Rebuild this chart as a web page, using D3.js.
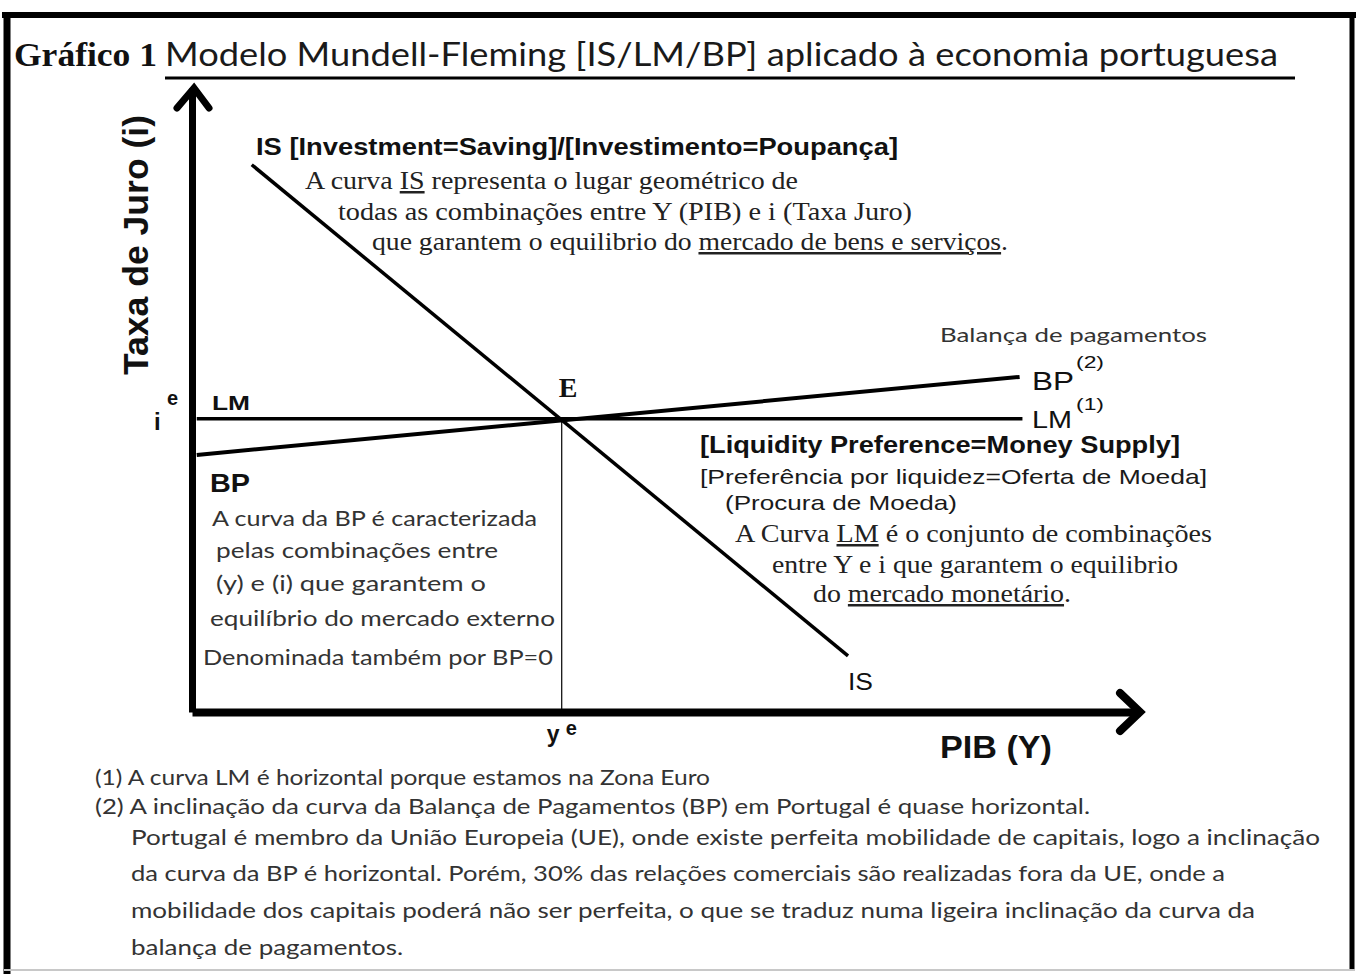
<!DOCTYPE html>
<html><head><meta charset="utf-8">
<script src="https://cdn.jsdelivr.net/npm/d3@7"></script>
<style>body{margin:0;background:#fff}svg{display:block}</style>
</head><body><svg id="c" width="1362" height="974"></svg>
<script>
// ---- data (model units) ----
const yDomain = [0, 10];        // PIB (Y)
const iDomain = [0, 10];        // Taxa de Juro (i)
const equilibrium = [3.9, 4.7]; // [Y^e, i^e]
const isCurve = [[0.63, 8.77], [6.92, 0.90]];
const lmCurve = [[0.05, 4.7], [8.76, 4.7]];
const bpCurve = [[0.05, 4.12], [8.73, 5.37]];
const titlePrefix = "Gráfico 1";
const titleMain = "Modelo Mundell-Fleming [IS/LM/BP] aplicado à economia portuguesa";
const yAxisLabel = "Taxa de Juro (i)";
const xAxisLabel = "PIB (Y)";
const isText = [
  [["IS [Investment=Saving]/[Investimento=Poupança]"]],
  [["A curva "], ["IS", 1], [" representa o lugar geométrico de"]],
  [["todas as combinações entre Y (PIB) e i (Taxa Juro)"]],
  [["que garantem o equilibrio do "], ["mercado de bens e serviços", 1], ["."]]
];
const lmText = [
  [["[Liquidity Preference=Money Supply]"]],
  [["[Preferência por liquidez=Oferta de Moeda]"]],
  [["(Procura de Moeda)"]],
  [["A Curva "], ["LM", 1], [" é o conjunto de combinações"]],
  [["entre Y e i  que garantem o equilibrio"]],
  [["do "], ["mercado monetário", 1], ["."]]
];
const bpText = [
  "BP",
  "A curva da BP é caracterizada",
  "pelas combinações entre",
  "(y) e (i) que garantem  o",
  "equilíbrio do mercado externo",
  "Denominada também por BP=0"
];
const notes = [
  "(1)  A curva LM é horizontal porque estamos na Zona Euro",
  "(2)  A inclinação da curva da Balança de Pagamentos (BP) em Portugal é quase horizontal.",
  "Portugal é membro da União Europeia (UE), onde existe perfeita mobilidade de capitais, logo a inclinação",
  "da curva da BP é horizontal. Porém, 30% das relações comerciais são realizadas fora da UE, onde a",
  "mobilidade dos capitais poderá não ser perfeita, o que se traduz numa ligeira inclinação da curva da",
  "balança de pagamentos."
];

// ---- drawing ----
const svg = d3.select("#c");
const SANS = "'Liberation Sans', Arial, sans-serif";
const SERIF = "'Liberation Serif', 'Times New Roman', serif";
const CAL = "Lato, 'Open Sans', sans-serif";

function txt(x, y, parts, o) {
  const t = svg.append("text").attr("x", x).attr("y", y)
    .attr("font-family", o.f).attr("font-size", o.s)
    .attr("font-weight", o.w || "normal").attr("fill", o.c || "#111");
  if (o.len) t.attr("textLength", o.len).attr("lengthAdjust", "spacingAndGlyphs");
  if (typeof parts === "string") parts = [[parts]];
  parts.forEach(p => {
    const ts = t.append("tspan").text(p[0]);
    if (p[1]) ts.style("text-decoration", "underline");
  });
  return t;
}

// frame
svg.append("line").attr("x1", 2).attr("x2", 1356).attr("y1", 15).attr("y2", 15).attr("stroke", "#000").attr("stroke-width", 6);
svg.append("line").attr("x1", 7).attr("x2", 7).attr("y1", 12).attr("y2", 974).attr("stroke", "#000").attr("stroke-width", 7);
svg.append("line").attr("x1", 1352).attr("x2", 1352).attr("y1", 12).attr("y2", 970).attr("stroke", "#000").attr("stroke-width", 5);
svg.append("line").attr("x1", 4).attr("x2", 1355).attr("y1", 970).attr("y2", 970).attr("stroke", "#c8c8c8").attr("stroke-width", 2);

// title
txt(14, 66, titlePrefix, {f: SERIF, s: 33, w: "bold", len: 143, c: "#111"});
txt(165, 66, titleMain, {f: CAL, s: 32, len: 1113, c: "#1a1a1a"});
svg.append("line").attr("x1", 165).attr("x2", 1295).attr("y1", 78).attr("y2", 78).attr("stroke", "#000").attr("stroke-width", 3);

// scales
const x = d3.scaleLinear().domain(yDomain).range([192, 1140]);
const y = d3.scaleLinear().domain(iDomain).range([712, 88]);

// axes
const gx = svg.append("g").attr("transform", `translate(0,${y(0)})`)
  .call(d3.axisBottom(x).tickValues([]).tickSizeOuter(0));
gx.select(".domain").attr("stroke", "#000").attr("stroke-width", 8);
const gy = svg.append("g").attr("transform", `translate(${x(0)},0)`)
  .call(d3.axisLeft(y).tickValues([]).tickSizeOuter(0));
gy.select(".domain").attr("stroke", "#000").attr("stroke-width", 7);

// arrowheads
const X1 = x(yDomain[1]), Y0 = y(0), Y1 = y(iDomain[1]), X0 = x(0);
svg.append("path").attr("d", `M${X1-20},${Y0-19}L${X1},${Y0}L${X1-20},${Y0+19}`)
  .attr("fill", "none").attr("stroke", "#000").attr("stroke-width", 8).attr("stroke-linecap", "round").attr("stroke-linejoin", "miter");
svg.append("path").attr("d", `M${X0-15},${Y1+20}L${X0+2},${Y1}L${X0+17},${Y1+20}`)
  .attr("fill", "none").attr("stroke", "#000").attr("stroke-width", 7).attr("stroke-linecap", "round").attr("stroke-linejoin", "miter");

// curves
const line = d3.line().x(d => x(d[0])).y(d => y(d[1]));
svg.append("path").attr("d", line(lmCurve)).attr("stroke", "#000").attr("stroke-width", 3.5).attr("fill", "none");
svg.append("path").attr("d", line(bpCurve)).attr("stroke", "#000").attr("stroke-width", 4).attr("fill", "none");
svg.append("path").attr("d", line(isCurve)).attr("stroke", "#000").attr("stroke-width", 3.5).attr("fill", "none");
// guide to Y^e
svg.append("line").attr("x1", x(equilibrium[0])).attr("x2", x(equilibrium[0]))
  .attr("y1", y(equilibrium[1])).attr("y2", y(0)).attr("stroke", "#000").attr("stroke-width", 1.2);

// axis labels
svg.append("text").attr("transform", `translate(148,${(375+115)/2}) rotate(-90)`)
  .attr("text-anchor", "middle").attr("font-family", SANS).attr("font-weight", "bold")
  .attr("font-size", 35).attr("fill", "#111").attr("textLength", 260).attr("lengthAdjust", "spacingAndGlyphs")
  .text(yAxisLabel);
txt(940, 758, xAxisLabel, {f: SANS, s: 32, w: "bold", len: 112});

// equilibrium tick labels
txt(x(0) - 38, y(equilibrium[1]) + 11, "i", {f: SANS, s: 24, w: "bold"});
txt(x(0) - 25, y(equilibrium[1]) - 14, "e", {f: SANS, s: 20, w: "bold"});
txt(x(equilibrium[0]) - 15, y(0) + 30, "y", {f: SANS, s: 23, w: "bold"});
txt(x(equilibrium[0]) + 4, y(0) + 23, "e", {f: SANS, s: 20, w: "bold"});
txt(x(equilibrium[0]) - 3, y(equilibrium[1]) - 22, "E", {f: SERIF, s: 28, w: "bold"});

// curve labels
txt(212, 410, "LM", {f: SANS, s: 21, w: "bold", len: 38});
txt(1032, 390, "BP", {f: SANS, s: 25, len: 42});
txt(1076, 368, "(2)", {f: SANS, s: 17, len: 28});
txt(1032, 428, "LM", {f: SANS, s: 24, len: 40});
txt(1076, 410, "(1)", {f: SANS, s: 17, len: 28});
txt(940, 342, "Balança de pagamentos", {f: CAL, s: 20, len: 267, c: "#333"});
txt(848, 690, "IS", {f: SANS, s: 23, len: 25});

// IS block
const isPos = [[256,155,642],[305,189,493],[338,220,574],[372,250,636]];
isText.forEach((p, k) => txt(isPos[k][0], isPos[k][1], p,
  k === 0 ? {f: SANS, s: 23, w: "bold", len: isPos[k][2]} : {f: SERIF, s: 25, len: isPos[k][2], c: "#222"}));

// LM block
const lmPos = [[700,453,480],[700,484,507],[725,510,232],[735,542,477],[772,573,406],[813,602,258]];
lmText.forEach((p, k) => txt(lmPos[k][0], lmPos[k][1], p,
  k === 0 ? {f: SANS, s: 23, w: "bold", len: lmPos[k][2]} :
  k < 3 ? {f: SANS, s: 21, len: lmPos[k][2], c: "#1a1a1a"} :
  {f: SERIF, s: 25, len: lmPos[k][2], c: "#222"}));

// BP block
const bpPos = [[210,492,40],[212,526,325],[216,558,282],[216,591,270],[210,626,345],[203,665,350]];
bpText.forEach((s, k) => txt(bpPos[k][0], bpPos[k][1], s,
  k === 0 ? {f: SANS, s: 25, w: "bold", len: bpPos[k][2]} : {f: CAL, s: 21, len: bpPos[k][2], c: "#333"}));

// footnotes
const notePos = [[95,785,615],[95,814,995],[131,845,1189],[131,881,1094],[131,918,1124],[131,955,272]];
notes.forEach((s, k) => txt(notePos[k][0], notePos[k][1], s, {f: CAL, s: 21, len: notePos[k][2], c: "#333"}));
</script></body></html>
